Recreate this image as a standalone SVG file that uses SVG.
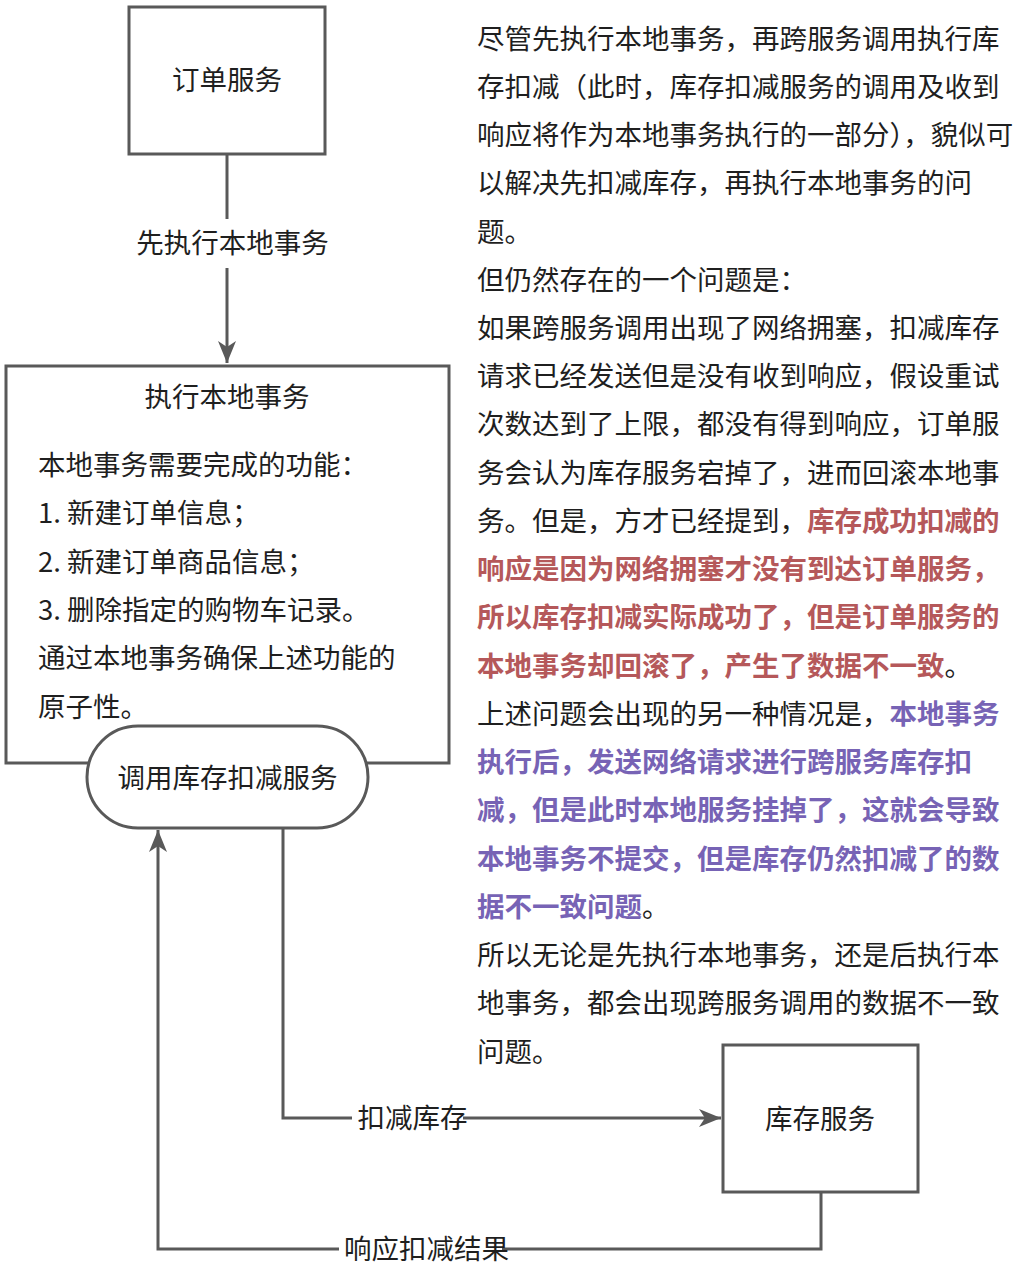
<svg xmlns="http://www.w3.org/2000/svg" width="1036" height="1279" viewBox="0 0 1036 1279">
<defs>
<style>
.box{fill:#fff;stroke:#595959;stroke-width:3}
.edge{fill:none;stroke:#595959;stroke-width:3}
.t{font-family:"Noto Sans CJK SC","Noto Sans",sans-serif;font-size:27.5px;fill:#1f1f1f}
.c{text-anchor:middle}
.red{fill:#b5585a;font-weight:bold}
.pur{fill:#7763b5;font-weight:bold}
.lbg{fill:#fff}
</style>
<marker id="arr" markerUnits="userSpaceOnUse" viewBox="-24 -12 26 24" refX="0" refY="0" markerWidth="26" markerHeight="24" orient="auto">
<path d="M0,0 L-22,-9 L-16,0 L-22,9 Z" fill="#595959"/>
</marker>
</defs>
<rect width="1036" height="1279" fill="#fff"/>

<g id="connectors">
<path class="edge" d="M227,154 L227,363" marker-end="url(#arr)"/>
<path class="edge" d="M283,828 L283,1118 L721,1118" marker-end="url(#arr)"/>
<path class="edge" d="M821,1192 L821,1249 L158,1249 L158,830" marker-end="url(#arr)"/>
<rect class="lbg" x="136" y="219" width="194" height="49"/>
<text class="t c" x="232.5" y="253">先执行本地事务</text>
<rect class="lbg" x="352" y="1102" width="111" height="32"/>
<text class="t c" x="412.5" y="1128">扣减库存</text>
<rect class="lbg" x="339" y="1233" width="163" height="32"/>
<text class="t c" x="426.5" y="1259">响应扣减结果</text>
</g>

<g id="order-service">
<rect class="box" x="129" y="7" width="196" height="147"/>
<text class="t c" x="227" y="90">订单服务</text>
</g>

<g id="local-tx">
<rect class="box" x="6" y="366" width="443" height="397"/>
<text class="t c" x="227" y="407">执行本地事务</text>
<text class="t" x="38" y="475">本地事务需要完成的功能：</text>
<text class="t" x="38" y="523">1. 新建订单信息；</text>
<text class="t" x="38" y="572">2. 新建订单商品信息；</text>
<text class="t" x="38" y="620">3. 删除指定的购物车记录。</text>
<text class="t" x="38" y="668">通过本地事务确保上述功能的</text>
<text class="t" x="38" y="717">原子性。</text>
</g>

<g id="call-inventory">
<rect class="box" x="87" y="726" width="281" height="102" rx="51" ry="51"/>
<text class="t c" x="227.5" y="788">调用库存扣减服务</text>
</g>

<g id="inventory-service">
<rect class="box" x="723" y="1045" width="195" height="147"/>
<text class="t c" x="820" y="1129">库存服务</text>
</g>

<g id="note">
<text class="t" x="477" y="48.5">尽管先执行本地事务，再跨服务调用执行库</text>
<text class="t" x="477" y="96.7">存扣减（此时，库存扣减服务的调用及收到</text>
<text class="t" x="477" y="145">响应将作为本地事务执行的一部分），貌似可</text>
<text class="t" x="477" y="193.2">以解决先扣减库存，再执行本地事务的问</text>
<text class="t" x="477" y="241.5">题。</text>
<text class="t" x="477" y="289.7">但仍然存在的一个问题是：</text>
<text class="t" x="477" y="337.9">如果跨服务调用出现了网络拥塞，扣减库存</text>
<text class="t" x="477" y="386.2">请求已经发送但是没有收到响应，假设重试</text>
<text class="t" x="477" y="434.4">次数达到了上限，都没有得到响应，订单服</text>
<text class="t" x="477" y="482.7">务会认为库存服务宕掉了，进而回滚本地事</text>
<text class="t" x="477" y="530.9">务。但是，方才已经提到，<tspan class="red">库存成功扣减的</tspan></text>
<text class="t" x="477" y="579.1"><tspan class="red">响应是因为网络拥塞才没有到达订单服务，</tspan></text>
<text class="t" x="477" y="627.4"><tspan class="red">所以库存扣减实际成功了，但是订单服务的</tspan></text>
<text class="t" x="477" y="675.6"><tspan class="red">本地事务却回滚了，产生了数据不一致</tspan>。</text>
<text class="t" x="477" y="723.9">上述问题会出现的另一种情况是，<tspan class="pur">本地事务</tspan></text>
<text class="t" x="477" y="772.1"><tspan class="pur">执行后，发送网络请求进行跨服务库存扣</tspan></text>
<text class="t" x="477" y="820.3"><tspan class="pur">减，但是此时本地服务挂掉了，这就会导致</tspan></text>
<text class="t" x="477" y="868.6"><tspan class="pur">本地事务不提交，但是库存仍然扣减了的数</tspan></text>
<text class="t" x="477" y="916.8"><tspan class="pur">据不一致问题</tspan>。</text>
<text class="t" x="477" y="965.1">所以无论是先执行本地事务，还是后执行本</text>
<text class="t" x="477" y="1013.3">地事务，都会出现跨服务调用的数据不一致</text>
<text class="t" x="477" y="1061.5">问题。</text>
</g>
</svg>
